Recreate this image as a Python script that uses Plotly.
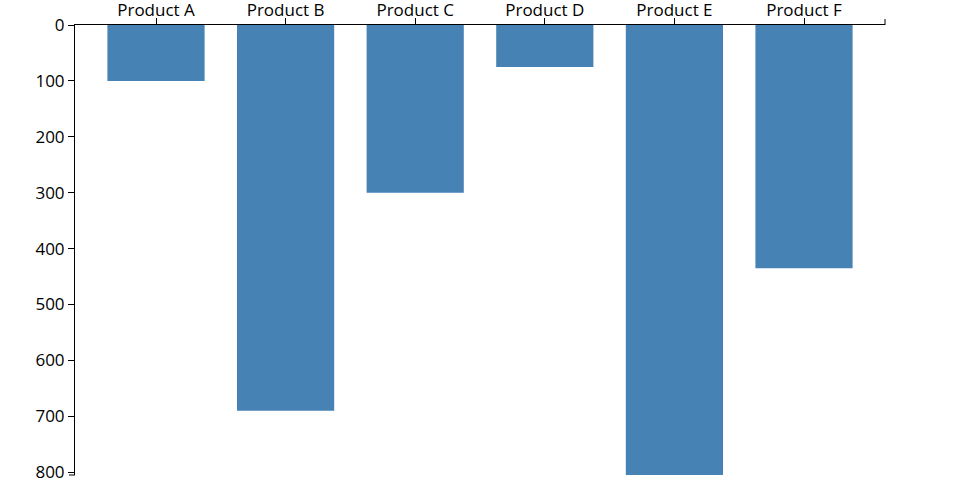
import plotly.graph_objects as go

categories = ["Product A", "Product B", "Product C", "Product D", "Product E", "Product F"]
values = [100, 690, 300, 75, 805, 435]
y_ticks = [0, 100, 200, 300, 400, 500, 600, 700, 800]

fig = go.Figure(go.Bar(
    x=categories, y=values, width=0.75,
    marker=dict(color="#4682b4", line=dict(width=0)),
))

W, H = 960, 500
ml, mr, mt, mb = 75, 75, 25, 25
pw, ph = W - ml - mr, H - mt - mb

fig.update_layout(
    width=W, height=H,
    margin=dict(l=ml, r=mr, t=mt, b=mb, pad=0, autoexpand=False),
    plot_bgcolor="white", paper_bgcolor="white",
    font=dict(family="Open Sans", size=17, color="#000"),
    showlegend=False,
    xaxis=dict(
        side="top", type="category", range=[-0.625, 5.625], automargin=False,
        showline=True, linecolor="#000", linewidth=1,
        ticks="outside", ticklen=6, tickcolor="#000", tickwidth=1,
        ticklabelstandoff=-5,
        showgrid=False, zeroline=False, fixedrange=True,
    ),
    yaxis=dict(
        range=[max(values), 0], tickvals=y_ticks, automargin=False,
        showline=True, linecolor="#000", linewidth=1,
        ticks="outside", ticklen=6, tickcolor="#000", tickwidth=1,
        showgrid=False, zeroline=False, fixedrange=True,
    ),
    shapes=[
        dict(type="line", xref="paper", yref="paper", x0=1, x1=1,
             y0=1, y1=1 + 6 / ph, line=dict(color="#000", width=1)),
        dict(type="line", xref="paper", yref="paper", x0=-6 / pw, x1=0,
             y0=0, y1=0, line=dict(color="#000", width=1)),
    ],
)

fig.write_html("out.html", config={"displayModeBar": False})

with open("out.html", encoding="utf-8") as f:
    html = f.read()
html = html.replace("<head>", "<head><style>html,body{margin:0;padding:0;overflow:hidden}</style>", 1)
with open("out.html", "w", encoding="utf-8") as f:
    f.write(html)
